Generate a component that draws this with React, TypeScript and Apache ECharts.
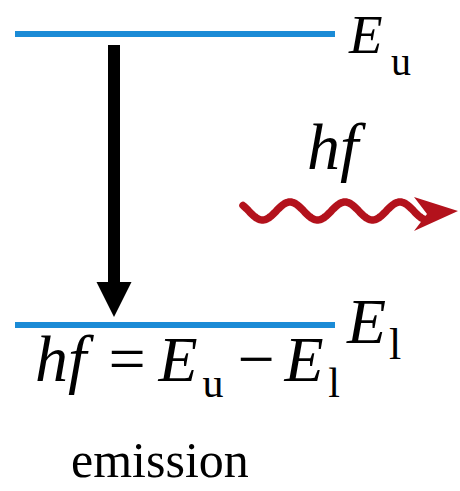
import React, { useEffect, useRef } from "react";
import * as echarts from "echarts";

// Energy levels (upper, lower) on a relative energy scale
const levelNames = ["u", "l"];
const levelEnergy = [1, 0];
const levelSpan = [15, 335];
// Transition (emission) from upper to lower level at this x
const transitionX = [114];
const photonLabel = "hf";
const equationParts = ["hf", "=", "E", "u", "\u2212", "E", "l"];
const caption = "emission";

const FAM = "'Liberation Serif'";
const BLUE = "#1b8bd6";
const RED = "#b3121c";

// place text by its alphabetic baseline using central vertical alignment
function txt(
  text: string,
  x: number,
  baseline: number,
  size: number,
  italic: boolean,
  align: string = "left"
) {
  return {
    type: "text",
    x,
    y: baseline - 0.4 * size,
    style: {
      text,
      font: (italic ? "italic " : "") + size + "px " + FAM,
      fill: "#000",
      align,
      verticalAlign: "middle",
      lineHeight: Math.round(size * 0.8),
    },
  };
}

function wavePoints() {
  const pts: number[][] = [];
  for (let x = 243; x <= 424; x += 1) {
    pts.push([x, 211 - 9 * Math.cos((2 * Math.PI * (x - 290)) / 55)]);
  }
  return pts;
}

export default function App() {
  const ref = useRef<HTMLDivElement>(null);
  useEffect(() => {
    if (!ref.current) return;
    const chart = echarts.init(ref.current, undefined, { renderer: "svg" });
    const levelSeries = levelEnergy.map((e, i) => ({
      type: "line",
      name: "E" + levelNames[i],
      data: [
        [levelSpan[0], e],
        [levelSpan[1], e],
      ],
      symbol: "none",
      lineStyle: { color: BLUE, width: 6, cap: "butt" },
      silent: true,
      z: 2,
    }));
    chart.setOption({
      animation: false,
      backgroundColor: "#fff",
      grid: { left: 0, right: 0, top: 34, bottom: 166, containLabel: false },
      xAxis: { type: "value", min: 0, max: 460, show: false },
      yAxis: { type: "value", min: 0, max: 1, show: false },
      series: [
        ...levelSeries,
        {
          type: "custom",
          silent: true,
          z: 3,
          data: transitionX.map((x) => [x, levelEnergy[0], levelEnergy[1]]),
          renderItem: (params: any, api: any) => {
            const top = api.coord([api.value(0), api.value(1)]);
            const bot = api.coord([api.value(0), api.value(2)]);
            const cx = top[0];
            const shaftTop = top[1] + 11;
            const headBase = bot[1] - 43;
            const tip = bot[1] - 8;
            return {
              type: "group",
              children: [
                {
                  type: "rect",
                  shape: { x: cx - 6, y: shaftTop, width: 12, height: headBase - shaftTop + 1 },
                  style: { fill: "#000" },
                },
                {
                  type: "polygon",
                  shape: {
                    points: [
                      [cx - 17.5, headBase],
                      [cx + 17.5, headBase],
                      [cx, tip],
                    ],
                  },
                  style: { fill: "#000" },
                },
              ],
            };
          },
        },
      ],
      graphic: [
        {
          type: "polyline",
          shape: { points: wavePoints() },
          style: { stroke: RED, lineWidth: 7.5, fill: null, lineCap: "round", lineJoin: "round" },
        },
        {
          type: "polygon",
          shape: {
            points: [
              [414, 197],
              [458, 211],
              [414, 231],
              [427, 214],
            ],
          },
          style: { fill: RED },
        },
        // level labels
        txt("E", 349, 56, 55, true),
        txt(levelNames[0], 391, 77, 40, false),
        txt("E", 347, 347, 64, true),
        txt(levelNames[1], 389, 362, 44, false),
        // photon label
        txt(photonLabel, 307, 173, 66, true),
        // equation
        txt(equationParts[0], 35, 385, 66, true),
        txt(equationParts[1], 127, 385, 66, false, "center"),
        txt(equationParts[2], 178, 385, 64, true, "center"),
        txt(equationParts[3], 213, 400, 42, false, "center"),
        txt(equationParts[4], 256, 385, 66, false, "center"),
        txt(equationParts[5], 304, 385, 64, true, "center"),
        txt(equationParts[6], 334, 400, 42, false, "center"),
        // caption
        txt(caption, 71, 480, 50, false),
      ],
    });
    return () => chart.dispose();
  }, []);
  return (
    <div
      ref={ref}
      style={{ position: "absolute", left: 0, top: 0, width: 460, height: 491, background: "#fff" }}
    />
  );
}
